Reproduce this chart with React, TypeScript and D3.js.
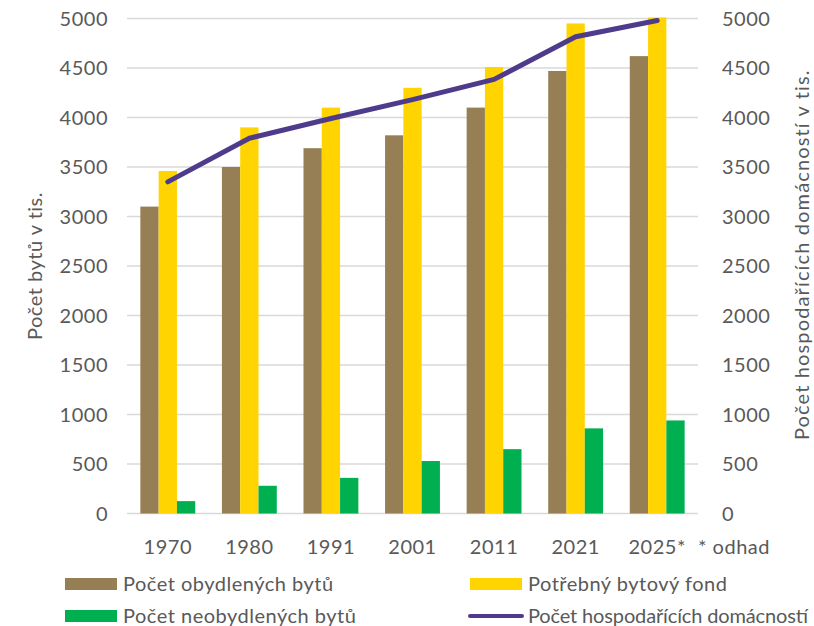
import * as d3 from "d3";

const years = ["1970", "1980", "1991", "2001", "2011", "2021", "2025*"];
const obydlene = [3100, 3500, 3690, 3820, 4100, 4470, 4620];
const potrebny = [3460, 3900, 4100, 4300, 4510, 4950, 5010];
const neobydlene = [125, 280, 360, 530, 650, 860, 940];
const domacnosti = [3350, 3790, 3990, 4180, 4385, 4815, 4980];
const ticks = [0, 500, 1000, 1500, 2000, 2500, 3000, 3500, 4000, 4500, 5000];

const barSeries = [
  { name: "Počet obydlených bytů", color: "#967e55", values: obydlene },
  { name: "Potřebný bytový fond", color: "#ffd400", values: potrebny },
  { name: "Počet neobydlených bytů", color: "#00b050", values: neobydlene },
];
const lineColor = "#4f3b8c";
const textColor = "#595959";
const font = "Lato, 'Open Sans', sans-serif";
const fs = 20;
const ls = 0.5;

const W = 814;
const H = 626;
const plot = { left: 127, right: 698, top: 18.5, bottom: 513.5 };

const App = () => {
  const x = d3.scaleBand<string>().domain(years).range([plot.left, plot.right]);
  const x1 = d3
    .scaleBand<number>()
    .domain([0, 1, 2])
    .range([0, x.bandwidth()])
    .paddingOuter(0.73);
  const y = d3.scaleLinear().domain([0, 5000]).range([plot.bottom, plot.top]);

  const line = d3
    .line<number>()
    .x((_, i) => (x(years[i]) ?? 0) + x.bandwidth() / 2)
    .y((d) => y(d));

  return (
    <svg
      width={W}
      height={H}
      style={{ position: "absolute", left: 0, top: 0, background: "#fff" }}
      fontFamily={font}
      letterSpacing={ls}
    >
      {/* grid */}
      {ticks.map((t) => (
        <line
          key={"g" + t}
          x1={plot.left}
          x2={plot.right}
          y1={y(t)}
          y2={y(t)}
          stroke="#d9d9d9"
          strokeWidth={1.3}
        />
      ))}

      {/* bars */}
      {barSeries.map((s, si) =>
        s.values.map((v, i) => (
          <rect
            key={s.name + i}
            x={(x(years[i]) ?? 0) + (x1(si) ?? 0)}
            y={y(v)}
            width={x1.bandwidth()}
            height={y(0) - y(v)}
            fill={s.color}
          />
        ))
      )}

      {/* line */}
      <path
        d={line(domacnosti) ?? ""}
        fill="none"
        stroke={lineColor}
        strokeWidth={5}
        strokeLinecap="round"
        strokeLinejoin="round"
      />

      {/* left axis */}
      {ticks.map((t) => (
        <text
          key={"l" + t}
          x={108}
          y={y(t)}
          dy="0.35em"
          textAnchor="end"
          fontSize={fs}
          fill={textColor}
        >
          {t}
        </text>
      ))}
      {/* right axis */}
      {ticks.map((t) => (
        <text
          key={"r" + t}
          x={722}
          y={y(t)}
          dy="0.35em"
          textAnchor="start"
          fontSize={fs}
          fill={textColor}
        >
          {t}
        </text>
      ))}

      {/* x labels */}
      {years.map((yr) => (
        <text
          key={"x" + yr}
          x={(x(yr) ?? 0) + x.bandwidth() / 2}
          y={554}
          textAnchor="middle"
          fontSize={fs}
          fill={textColor}
        >
          {yr}
        </text>
      ))}
      <text x={698} y={554} fontSize={fs} fill={textColor}>
        * odhad
      </text>

      {/* axis titles */}
      <text
        transform={`translate(42,${(plot.top + plot.bottom) / 2}) rotate(-90)`}
        textAnchor="middle"
        fontSize={fs}
        fill={textColor}
      >
        Počet bytů v tis.
      </text>
      <text
        transform={`translate(809,255) rotate(-90)`}
        textAnchor="middle"
        fontSize={fs}
        fill={textColor}
        textLength={370}
      >
        Počet hospodařících domácností v tis.
      </text>

      {/* legend */}
      <g fontSize={fs} fill={textColor}>
        <rect x={65} y={578} width={52} height={12} fill={barSeries[0].color} />
        <text x={123} y={584} dy="0.35em">{barSeries[0].name}</text>
        <rect x={470} y={578} width={52} height={12} fill={barSeries[1].color} />
        <text x={528} y={584} dy="0.35em">{barSeries[1].name}</text>
        <rect x={65} y={610} width={52} height={12} fill={barSeries[2].color} />
        <text x={123} y={616} dy="0.35em">{barSeries[2].name}</text>
        <line
          x1={470}
          x2={522}
          y1={616}
          y2={616}
          stroke={lineColor}
          strokeWidth={4}
          strokeLinecap="round"
        />
        <text x={528} y={616} dy="0.35em" letterSpacing={0} textLength={280}>
          Počet hospodařících domácností
        </text>
      </g>
    </svg>
  );
};

export default App;
